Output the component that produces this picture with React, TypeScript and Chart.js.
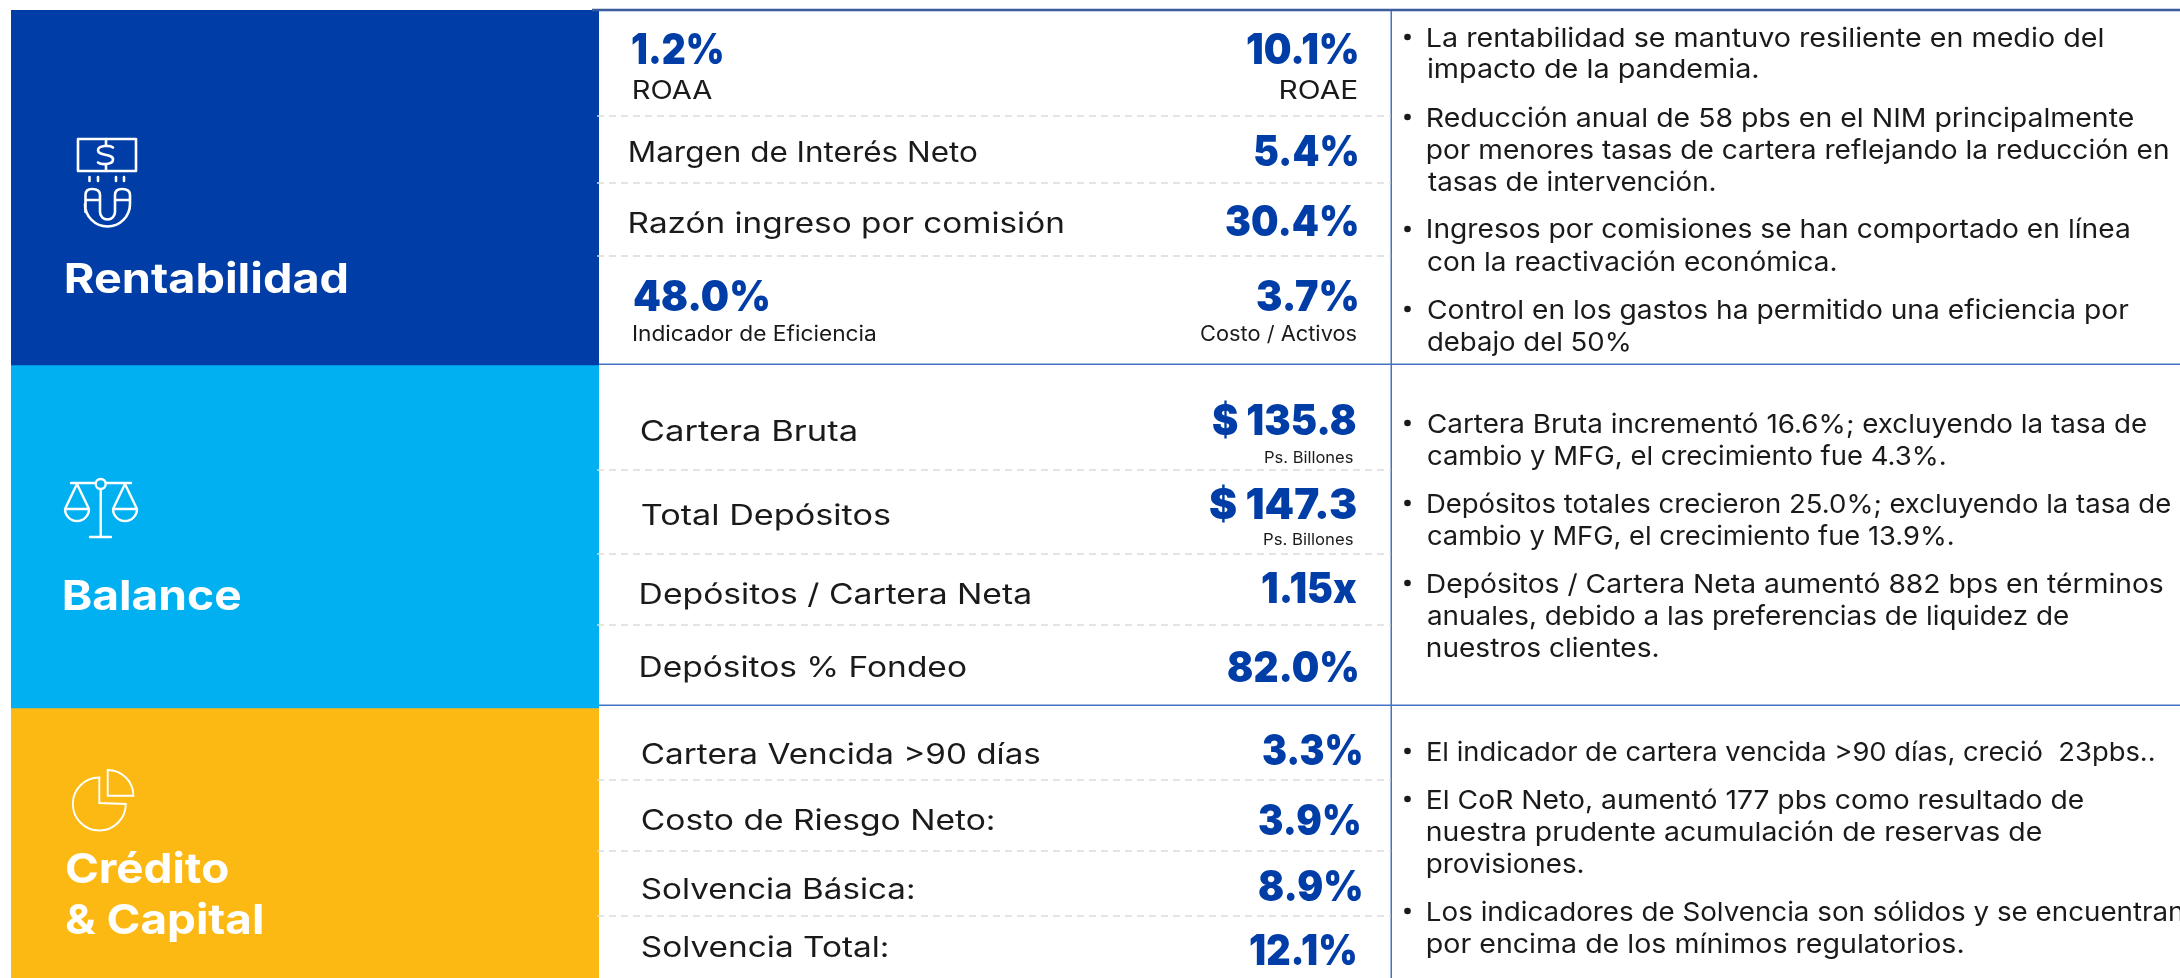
import React, { useEffect, useRef } from "react";
import { Chart, registerables } from "chart.js";

Chart.register(...registerables);

// ---------- content ----------
const sectionNames = ["Rentabilidad", "Balance", "Crédito & Capital"];
const sectionSpans = [355, 343, 270];
const sectionColors = ["#003DA6", "#00B0F0", "#FDB913"];

const sectionTitleLines = ["Rentabilidad", "Balance", "Crédito", "& Capital"];

const metricValues = [
  "1.2%", "10.1%", "5.4%", "30.4%", "48.0%", "3.7%",
  "$ 135.8", "$ 147.3", "1.15x", "82.0%",
  "3.3%", "3.9%", "8.9%", "12.1%",
];

const metricLabels = [
  "ROAA", "ROAE", "Margen de Interés Neto", "Razón ingreso por comisión",
  "Indicador de Eficiencia", "Costo / Activos",
  "Cartera Bruta", "Ps. Billones", "Total Depósitos", "Ps. Billones",
  "Depósitos / Cartera Neta", "Depósitos % Fondeo",
  "Cartera Vencida >90 días", "Costo de Riesgo Neto:", "Solvencia Básica:", "Solvencia Total:",
];

const commentLines = [
  "La rentabilidad se mantuvo resiliente en medio del",
  "impacto de la pandemia.",
  "Reducción anual de 58 pbs en el NIM principalmente",
  "por menores tasas de cartera reflejando la reducción en",
  "tasas de intervención.",
  "Ingresos por comisiones se han comportado en línea",
  "con la reactivación económica.",
  "Control en los gastos ha permitido una eficiencia por",
  "debajo del 50%",
  "Cartera Bruta incrementó 16.6%; excluyendo la tasa de",
  "cambio y MFG, el crecimiento fue 4.3%.",
  "Depósitos totales crecieron 25.0%; excluyendo la tasa de",
  "cambio y MFG, el crecimiento fue 13.9%.",
  "Depósitos / Cartera Neta aumentó 882 bps en términos",
  "anuales, debido a las preferencias de liquidez de",
  "nuestros clientes.",
  "El indicador de cartera vencida >90 días, creció  23pbs..",
  "El CoR Neto, aumentó 177 pbs como resultado de",
  "nuestra prudente acumulación de reservas de",
  "provisiones.",
  "Los indicadores de Solvencia son sólidos y se encuentran",
  "por encima de los mínimos regulatorios.",
];

// ---------- layout (separate from content) ----------
const FONT = "Inter, 'Open Sans', sans-serif";
const NUM_BLUE = "#003DA6";
const INK = "#1A1A1A";
const RULE = "#4472C4";

// [left, baseline, width]
const titlePlace = [
  [66, 293, 281],
  [64, 610, 176],
  [66, 883, 162],
  [66, 934, 196],
];
// [left, baseline, width]
const valuePlace = [
  [632, 64, 90], [1247, 64, 110], [1255, 166, 102], [1226, 236, 131],
  [634, 311, 134], [1257, 311, 100],
  [1213, 435, 143], [1210, 519, 146], [1262, 603, 95], [1228, 682, 129],
  [1263, 765, 98], [1259, 835, 100], [1259, 901, 102], [1250, 965, 105],
];
// [left, baseline, width, font size]
const labelPlace = [
  [634, 99, 78, 25], [1281, 99, 76, 25], [630, 162, 347, 28], [630, 233, 433, 28],
  [633, 341, 243, 21], [1201, 341, 156, 21],
  [641, 441, 215, 28], [1265, 463, 88, 16], [642, 525, 248, 28], [1264, 545, 89, 16],
  [641, 604, 389, 28], [641, 677, 325, 28],
  [642, 764, 398, 28], [642, 830, 351, 28], [642, 899, 271, 28], [642, 957, 245, 28],
];
const commentLeft = 1428;
const commentRights = [
  2103, 1758, 2133, 2168, 1715, 2129, 1836, 2129, 1629,
  2146, 1945, 2170, 1953, 2163, 2068, 1658,
  2154, 2083, 2041, 1583, 2183, 1963,
];
const commentBaselines = [47, 78, 127, 159, 191, 238, 271, 319, 351, 433, 465, 513, 545, 593, 625, 657, 761, 809, 841, 873, 921, 953];
const bulletYs = [37, 117, 229, 309, 423, 503, 583, 751, 799, 911];
const dashYs = [116, 183, 256, 470, 554, 625, 780, 851, 916];
const ruleYs = [364, 705];

function fit(ctx: CanvasRenderingContext2D, text: string, x: number, y: number, w: number, font: string, color: string) {
  ctx.save();
  ctx.font = font;
  ctx.fillStyle = color;
  ctx.textAlign = "left";
  ctx.textBaseline = "alphabetic";
  const m = ctx.measureText(text);
  const sx = w / (m.actualBoundingBoxRight + m.actualBoundingBoxLeft);
  ctx.translate(x, y);
  ctx.scale(sx, 1);
  ctx.fillText(text, m.actualBoundingBoxLeft, 0);
  ctx.restore();
}

function drawIcons(ctx: CanvasRenderingContext2D) {
  ctx.save();
  ctx.strokeStyle = "#fff";
  ctx.fillStyle = "#fff";
  ctx.lineCap = "round";
  ctx.lineJoin = "round";
  ctx.lineWidth = 2.6;
  // bill
  ctx.strokeRect(78, 139, 58, 32);
  ctx.beginPath();
  ctx.moveTo(113, 147.5);
  ctx.bezierCurveTo(110, 145, 98, 145, 98, 150.5);
  ctx.bezierCurveTo(98, 156, 113, 153.5, 113, 159.5);
  ctx.bezierCurveTo(113, 165, 101, 165, 98, 162.5);
  ctx.moveTo(106, 139); ctx.lineTo(106, 145.5);
  ctx.moveTo(106, 164.5); ctx.lineTo(106, 171);
  // magnet pips
  for (const x of [89.5, 98, 116, 124]) { ctx.moveTo(x, 177); ctx.lineTo(x, 181); }
  // magnet
  ctx.moveTo(85.5, 212);
  ctx.lineTo(85.5, 195);
  ctx.quadraticCurveTo(85.5, 189, 92, 189);
  ctx.quadraticCurveTo(100, 189, 100, 195);
  ctx.lineTo(100, 212);
  ctx.arc(107.5, 212, 7.5, Math.PI, 0, true);
  ctx.lineTo(115, 195);
  ctx.quadraticCurveTo(115, 189, 122, 189);
  ctx.quadraticCurveTo(130, 189, 130, 195);
  ctx.lineTo(130, 204);
  ctx.arc(107.5, 204, 22.5, 0, Math.PI, false);
  ctx.closePath();
  ctx.moveTo(86, 200); ctx.lineTo(100, 200);
  ctx.moveTo(115, 200); ctx.lineTo(130, 200);
  ctx.stroke();

  // scales
  ctx.lineWidth = 2.4;
  ctx.beginPath();
  ctx.moveTo(71, 483); ctx.lineTo(95.5, 483);
  ctx.moveTo(106, 483); ctx.lineTo(131, 483);
  ctx.moveTo(100.7, 489.5); ctx.lineTo(100.7, 537);
  ctx.moveTo(90, 537); ctx.lineTo(111, 537);
  ctx.moveTo(105.7, 484);
  ctx.arc(100.7, 484, 5, 0, Math.PI * 2);
  for (const cx of [77, 125]) {
    ctx.moveTo(cx, 484); ctx.lineTo(cx - 12, 509);
    ctx.moveTo(cx, 484); ctx.lineTo(cx + 12, 509);
    ctx.moveTo(cx - 12, 509); ctx.lineTo(cx + 12, 509);
    ctx.moveTo(cx + 12, 509);
    ctx.arc(cx, 509, 12, 0, Math.PI, false);
  }
  ctx.stroke();

  // pie
  ctx.lineWidth = 1.9;
  ctx.lineJoin = "miter";
  ctx.beginPath();
  ctx.moveTo(99.3, 803);
  ctx.lineTo(99.3, 778);
  ctx.arc(99.3, 804, 26.5, -Math.PI / 2, 0, true);
  ctx.closePath();
  ctx.moveTo(107.7, 795.7);
  ctx.lineTo(107.7, 770);
  ctx.arc(107.7, 795.7, 25.7, -Math.PI / 2, 0, false);
  ctx.closePath();
  ctx.stroke();
  ctx.restore();
}

const tablePlugin = {
  id: "table",
  afterDraw(chart: any) {
    const ctx: CanvasRenderingContext2D = chart.ctx;
    ctx.save();
    // rules
    ctx.strokeStyle = "#3B5D9E";
    ctx.lineWidth = 2.5;
    ctx.beginPath(); ctx.moveTo(592, 10); ctx.lineTo(2180, 10); ctx.stroke();
    ctx.strokeStyle = RULE;
    ctx.lineWidth = 1.5;
    for (const y of ruleYs) { ctx.beginPath(); ctx.moveTo(599, y + 0.25); ctx.lineTo(2180, y + 0.25); ctx.stroke(); }
    ctx.beginPath(); ctx.moveTo(1391.25, 11); ctx.lineTo(1391.25, 978); ctx.stroke();
    // dashed separators
    ctx.strokeStyle = "#DADADA";
    ctx.lineWidth = 1.5;
    ctx.setLineDash([7, 5]);
    for (const y of dashYs) { ctx.beginPath(); ctx.moveTo(597, y); ctx.lineTo(1391, y); ctx.stroke(); }
    ctx.setLineDash([]);
    ctx.restore();

    sectionTitleLines.forEach((t, i) => {
      const [x, y, w] = titlePlace[i];
      fit(ctx, t, x, y, w, `700 41px ${FONT}`, "#FFFFFF");
    });
    metricValues.forEach((t, i) => {
      const [x, y, w] = valuePlace[i];
      fit(ctx, t, x, y, w, `900 42px ${FONT}`, NUM_BLUE);
    });
    metricLabels.forEach((t, i) => {
      const [x, y, w, s] = labelPlace[i];
      fit(ctx, t, x, y, w, `400 ${s}px ${FONT}`, INK);
    });
    commentLines.forEach((t, i) => {
      fit(ctx, t, commentLeft, commentBaselines[i], commentRights[i] - commentLeft, `400 26px ${FONT}`, INK);
    });

    ctx.save();
    ctx.fillStyle = INK;
    for (const y of bulletYs) {
      ctx.beginPath();
      ctx.arc(1407.5, y, 3.3, 0, Math.PI * 2);
      ctx.fill();
    }
    ctx.restore();

    drawIcons(ctx);
  },
};

export default function App() {
  const ref = useRef<HTMLCanvasElement>(null);
  useEffect(() => {
    if (!ref.current) return;
    const chart = new Chart(ref.current, {
      type: "bar",
      data: {
        labels: ["Resumen"],
        datasets: sectionNames.map((name, i) => ({
          label: name,
          data: [sectionSpans[i]],
          backgroundColor: sectionColors[i],
          borderWidth: 0,
          barPercentage: 1,
          categoryPercentage: 1,
        })),
      },
      options: {
        responsive: false,
        animation: false,
        events: [],
        layout: { padding: { left: 11, right: 1581, top: 10, bottom: 0 } },
        plugins: { legend: { display: false }, tooltip: { enabled: false }, title: { display: false } },
        scales: {
          x: { stacked: true, display: false },
          y: { stacked: true, display: false, reverse: true, min: 0, max: 968 },
        },
      },
      plugins: [tablePlugin],
    });
    return () => chart.destroy();
  }, []);
  return (
    <canvas
      ref={ref}
      width={2180}
      height={978}
      style={{ position: "absolute", left: 0, top: 0, width: 2180, height: 978, display: "block" }}
    />
  );
}
